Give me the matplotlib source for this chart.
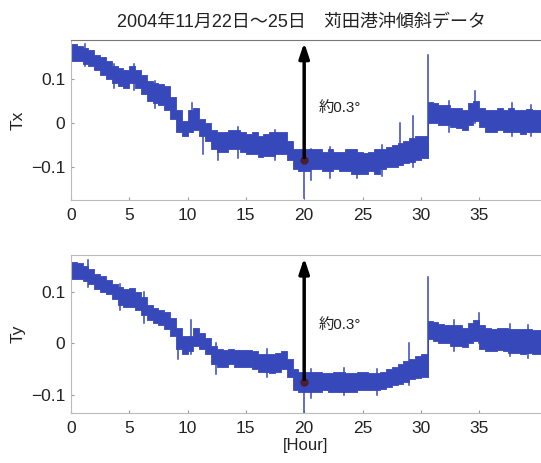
import matplotlib.pyplot as plt

plt.rcParams['font.family'] = ['Liberation Sans', 'Noto Sans CJK JP', 'DejaVu Sans']

# sampling grid (hours): every half hour, with the jump at 30.6 h
hours = [i * 0.5 for i in range(61)] + [30.6] + [31 + i * 0.5 for i in range(19)] + [40.6]

# band envelopes
tx_hi = [0.18, 0.175, 0.17, 0.165, 0.155, 0.15, 0.14, 0.13, 0.125, 0.12,
         0.13, 0.12, 0.11, 0.095, 0.09, 0.088, 0.085, 0.06, 0.03, 0.005,
         0.03, 0.035, 0.01, 0.0, -0.015, -0.02, -0.02, -0.015, -0.015, -0.02,
         -0.025, -0.02, -0.03, -0.025, -0.02, -0.02, -0.02, -0.04, -0.06, -0.06,
         -0.06, -0.06, -0.06, -0.065, -0.06, -0.065, -0.065, -0.06, -0.06, -0.065,
         -0.068, -0.065, -0.06, -0.06, -0.055, -0.05, -0.045, -0.04, -0.035, -0.03,
         -0.03,
         0.048,
         0.045, 0.04, 0.04, 0.035, 0.035, 0.03, 0.045, 0.05, 0.035, 0.03,
         0.03, 0.035, 0.03, 0.035, 0.03, 0.03, 0.032, 0.03, 0.03,
         0.03]
tx_lo = [0.14, 0.14, 0.135, 0.13, 0.12, 0.11, 0.10, 0.09, 0.085, 0.08,
         0.09, 0.08, 0.065, 0.05, 0.045, 0.04, 0.03, 0.01, -0.02, -0.03,
         -0.02, -0.015, -0.03, -0.04, -0.06, -0.065, -0.065, -0.06, -0.06, -0.065,
         -0.07, -0.07, -0.077, -0.075, -0.075, -0.07, -0.07, -0.085, -0.105, -0.11,
         -0.11, -0.105, -0.105, -0.11, -0.11, -0.105, -0.11, -0.11, -0.115, -0.115,
         -0.115, -0.11, -0.115, -0.105, -0.1, -0.1, -0.095, -0.09, -0.088, -0.085,
         -0.08,
         0.0,
         0.0, -0.005, -0.005, -0.01, -0.012, -0.015, -0.005, 0.005, -0.01, -0.02,
         -0.02, -0.015, -0.02, -0.02, -0.02, -0.025, -0.02, -0.02, -0.02,
         -0.02]

ty_hi = [0.158, 0.155, 0.15, 0.145, 0.135, 0.13, 0.122, 0.115, 0.11, 0.105,
         0.108, 0.1, 0.09, 0.075, 0.068, 0.065, 0.06, 0.05, 0.03, 0.015,
         0.015, 0.03, 0.02, 0.01, -0.005, -0.01, -0.012, -0.01, -0.012, -0.012,
         -0.012, -0.015, -0.02, -0.02, -0.02, -0.018, -0.015, -0.03, -0.05, -0.055,
         -0.055, -0.055, -0.055, -0.058, -0.058, -0.055, -0.055, -0.058, -0.058, -0.056,
         -0.055, -0.058, -0.058, -0.055, -0.05, -0.045, -0.04, -0.035, -0.03, -0.025,
         -0.02,
         0.044,
         0.042, 0.038, 0.035, 0.035, 0.035, 0.03, 0.04, 0.045, 0.035, 0.03,
         0.028, 0.03, 0.03, 0.028, 0.028, 0.028, 0.028, 0.026, 0.026,
         0.026]
ty_lo = [0.125, 0.125, 0.12, 0.115, 0.105, 0.1, 0.095, 0.085, 0.075, 0.07,
         0.07, 0.065, 0.055, 0.045, 0.04, 0.035, 0.028, 0.015, -0.01, -0.02,
         -0.015, -0.005, -0.01, -0.02, -0.04, -0.045, -0.045, -0.04, -0.045, -0.045,
         -0.045, -0.05, -0.055, -0.055, -0.058, -0.055, -0.05, -0.065, -0.09, -0.095,
         -0.095, -0.095, -0.095, -0.09, -0.095, -0.094, -0.094, -0.095, -0.095, -0.09,
         -0.09, -0.09, -0.09, -0.088, -0.085, -0.08, -0.078, -0.075, -0.07, -0.068,
         -0.065,
         0.008,
         0.005, 0.0, 0.0, -0.005, -0.005, -0.008, 0.0, 0.005, -0.01, -0.015,
         -0.015, -0.012, -0.015, -0.018, -0.018, -0.02, -0.018, -0.02, -0.02,
         -0.02]

# isolated spikes: hour, low, high
tx_spikes = [(1.2, 0.13, 0.18), (3.7, 0.08, 0.135), (5.4, 0.075, 0.135),
             (7.2, 0.035, 0.095), (10.4, -0.02, 0.045), (11.3, -0.07, 0.0),
             (12.6, -0.085, -0.03), (14.3, -0.08, -0.01), (17.5, -0.085, -0.015),
             (20.0, -0.17, -0.06), (20.6, -0.13, -0.06), (22.2, -0.125, -0.055),
             (24.5, -0.125, -0.07), (26.7, -0.12, -0.05), (28.2, -0.095, 0.0),
             (29.3, -0.1, 0.015), (30.6, -0.08, 0.155), (32.4, -0.02, 0.05),
             (34.6, 0.0, 0.072), (37.8, -0.03, 0.045), (39.4, -0.03, 0.04)]
ty_spikes = [(1.5, 0.11, 0.162), (4.2, 0.065, 0.115), (6.3, 0.04, 0.1),
             (9.2, -0.03, 0.01), (10.3, -0.02, 0.045), (12.4, -0.06, -0.0),
             (16.8, -0.065, -0.01), (20.0, -0.135, -0.05), (20.6, -0.105, -0.05),
             (23.4, -0.1, -0.048), (26.2, -0.1, -0.05), (29.0, -0.08, 0.0),
             (30.6, -0.065, 0.128), (32.8, -0.015, 0.045), (35.0, 0.0, 0.058),
             (37.6, -0.025, 0.038), (39.2, -0.028, 0.035)]

arrow_base = [-0.085, -0.075]
ylims = [(-0.175, 0.189), (-0.135, 0.171)]

BLUE = '#3748bb'

fig = plt.figure(figsize=(5.41, 4.63), dpi=100)
ax1 = fig.add_axes([0.131, 0.568, 0.869, 0.346])
ax2 = fig.add_axes([0.131, 0.108, 0.869, 0.341])

panels = [(ax1, tx_hi, tx_lo, tx_spikes, 'Tx'), (ax2, ty_hi, ty_lo, ty_spikes, 'Ty')]
for i, (ax, hi, lo, spikes, name) in enumerate(panels):
    ax.fill_between(hours, lo, hi, step='post', color=BLUE, linewidth=0.6, edgecolor=BLUE)
    for h, a, b in spikes:
        ax.plot([h, h], [a, b], color=BLUE, lw=1.1)
    ax.set_xlim(0, 40.3)
    ax.set_ylim(*ylims[i])
    top = ylims[i][1]
    ax.annotate('', xy=(20, top), xytext=(20, arrow_base[i]),
                arrowprops=dict(arrowstyle='-|>,head_width=0.3,head_length=0.9',
                                color='black', lw=2.5))
    ax.plot(20, arrow_base[i], 'o', color='#4a1e2e', ms=5)
    ax.text(21.2, 0.035, '約0.3°', fontsize=11, va='center', color='#222222')
    ax.set_xticks([0, 5, 10, 15, 20, 25, 30, 35])
    ax.set_yticks([-0.1, 0, 0.1])
    ax.set_yticklabels(['\u22120.1', '0', '0.1'])
    ax.tick_params(direction='in', length=2, color='#999999', labelsize=12.5,
                   labelcolor='#222222', pad=4)
    ax.tick_params(axis='x', pad=6)
    for s in ax.spines.values():
        s.set_color('#bbbbbb')
        s.set_linewidth(0.8)
    ax.spines['right'].set_visible(False)
    ax.set_ylabel(name, fontsize=12.5, labelpad=4, color='#222222')

ax1.spines['top'].set_color('#777777')
ax2.set_xlabel('[Hour]', fontsize=12, labelpad=1, color='#222222')

fig.text(0.558, 0.952, '2004年11月22日～25日\u3000苅田港沖傾斜データ',
         ha='center', va='center', fontsize=13, color='#222222')

fig.savefig('out.png', dpi=100)
